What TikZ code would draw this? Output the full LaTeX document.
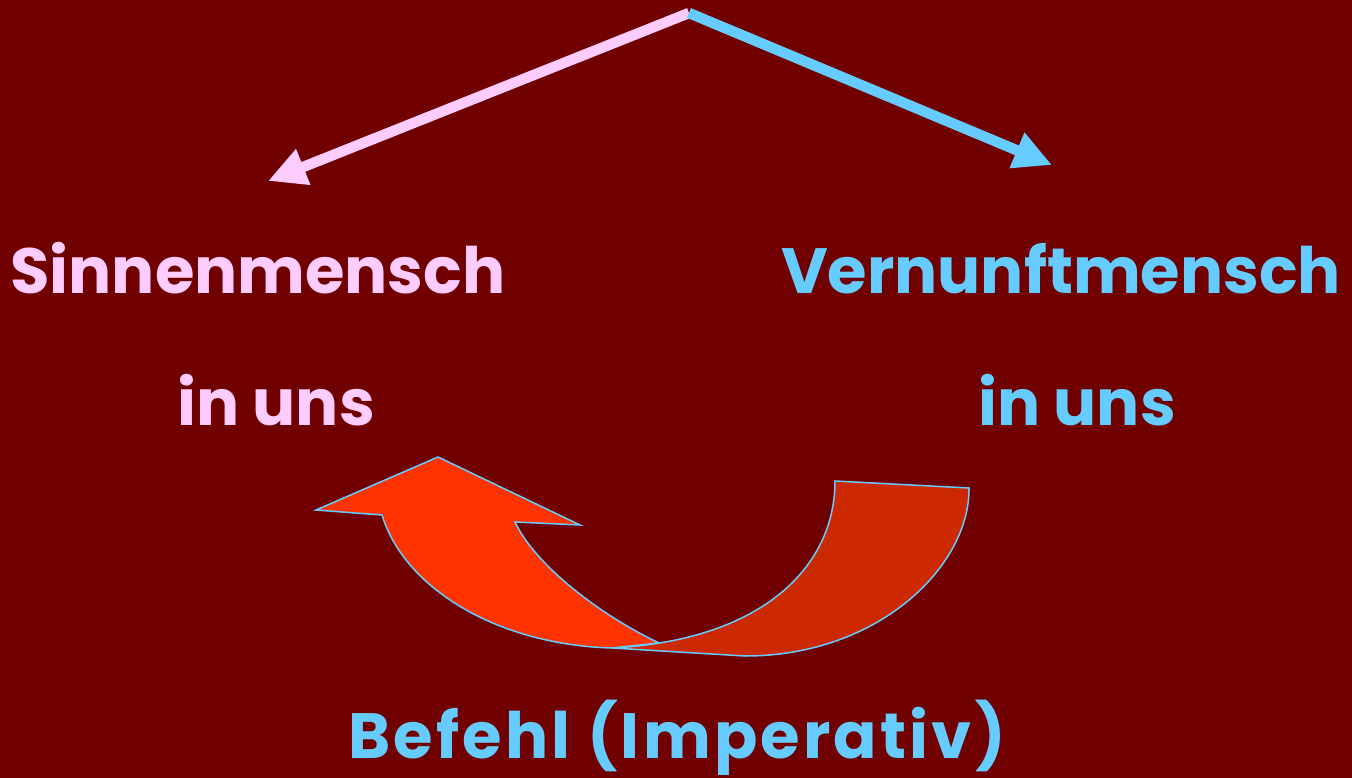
\documentclass[tikz,border=0pt]{standalone}
\usepackage{fontspec}
\setmainfont{Poppins}
\usetikzlibrary{arrows.meta}
\definecolor{bg}{RGB}{112,0,0}
\definecolor{pinkc}{RGB}{255,204,255}
\definecolor{bluec}{RGB}{102,204,255}
\definecolor{orangeA}{RGB}{255,51,0}
\definecolor{orangeB}{RGB}{204,41,0}
\tikzset{
  lbl/.style={font=\fontsize{64}{64}\selectfont\bfseries, inner sep=0pt, anchor=base},
  branch/.style={line width=10.5pt, -{Triangle[length=38pt,width=36pt]}},
  uturn/.style={draw=bluec, line width=1.5pt, line join=miter}
}
\begin{document}
\begin{tikzpicture}[x=1pt,y=-1pt]
\fill[bg] (0,0) rectangle (1352,778);
\useasboundingbox (0,0) rectangle (1352,778);
\coordinate (top) at (689,13);
\coordinate (lt) at (268,181);
\coordinate (rt) at (1052,165);
\draw[branch, pinkc] (top) -- (lt);
\draw[branch, bluec] (top) -- (rt);
\node[lbl, text=pinkc] (s1) at (258,293) {Sinnenmensch};
\node[lbl, text=pinkc] (s2) at (276,425) {in uns};
\node[lbl, text=bluec] (v1) at (1061,293) {Vernunftmensch};
\node[lbl, text=bluec] (v2) at (1077,425) {in uns};
\node[lbl, text=bluec] (b) at (677,758) {\addfontfeature{LetterSpace=5}Befehl (Imperativ)};
% left piece of curved arrow
\filldraw[uturn, fill=orangeA]
  (382,515) -- (316,510) -- (438,457) -- (580,525) -- (515,522)
  .. controls (535,565) and (600,615) .. (659,643)
  -- (612,648)
  .. controls (500,645) and (405,590) .. (382,515) -- cycle;
% right piece
\filldraw[uturn, fill=orangeB]
  (835,481) -- (969,488)
  .. controls (970,565) and (880,656) .. (745,656)
  -- (612,648)
  .. controls (765,640) and (835,565) .. (835,481) -- cycle;
\end{tikzpicture}
\end{document}
